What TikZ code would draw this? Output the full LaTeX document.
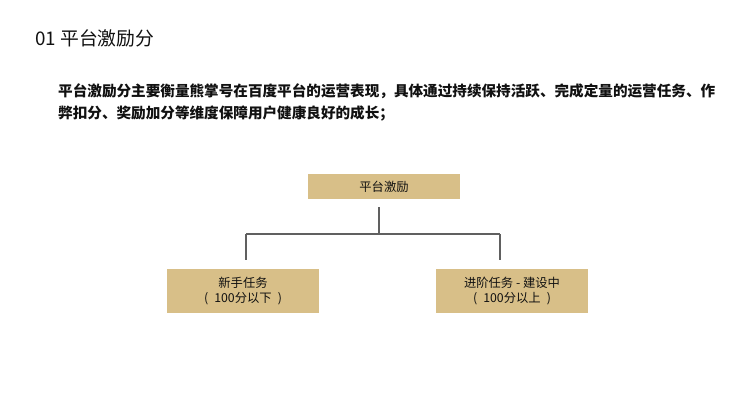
\documentclass[tikz,border=0pt]{standalone}
\usepackage{fontspec}
\setmainfont{Noto Sans CJK SC}
\newfontfamily\cjk{Noto Sans CJK SC}
\definecolor{boxfill}{HTML}{D8BF88}
\definecolor{txt}{HTML}{111111}
\definecolor{lin}{HTML}{606060}
\begin{document}
\begin{tikzpicture}[x=1pt,y=-1pt,
  tbox/.style={draw=none,fill=boxfill,minimum width=152pt,inner sep=0pt,align=center,text=txt,font=\cjk\fontsize{12.3pt}{15pt}\selectfont},
  conn/.style={draw=lin,line width=1.1pt}]
\useasboundingbox (0,0) rectangle (738,413);
\node[anchor=west,text=txt,font=\cjk\fontsize{18.8pt}{22pt}\selectfont,inner sep=0pt] (title) at (35,38) {01 平台激励分};
\node[anchor=west,text=txt,font=\cjk\bfseries\fontsize{14.6pt}{18pt}\selectfont,inner sep=0pt] (p1) at (58,91) {平台激励分主要衡量熊掌号在百度平台的运营表现，具体通过持续保持活跃、完成定量的运营任务、作};
\node[anchor=west,text=txt,font=\cjk\bfseries\fontsize{14.6pt}{18pt}\selectfont,inner sep=0pt] (p2) at (58,113) {弊扣分、奖励加分等维度保障用户健康良好的成长；};
\node[tbox,minimum height=25pt] (top) at (384,186.5) {平台激励};
\node[tbox,minimum height=44pt] (left) at (243,291) {新手任务\\(\enspace100分以下\enspace)};
\node[tbox,minimum height=44pt] (right) at (512,291) {进阶任务 - 建设中\\(\enspace100分以上\enspace)};
\coordinate (tv1) at (379,207);
\coordinate (hub) at (379,234);
\coordinate (hl) at (246,234);
\coordinate (hr) at (500,234);
\coordinate (lv) at (246,260);
\coordinate (rv) at (500,260);
\draw[conn] (tv1) -- (hub);
\draw[conn] (hl) -- (hr);
\draw[conn] (hl) -- (lv);
\draw[conn] (hr) -- (rv);
\end{tikzpicture}
\end{document}
